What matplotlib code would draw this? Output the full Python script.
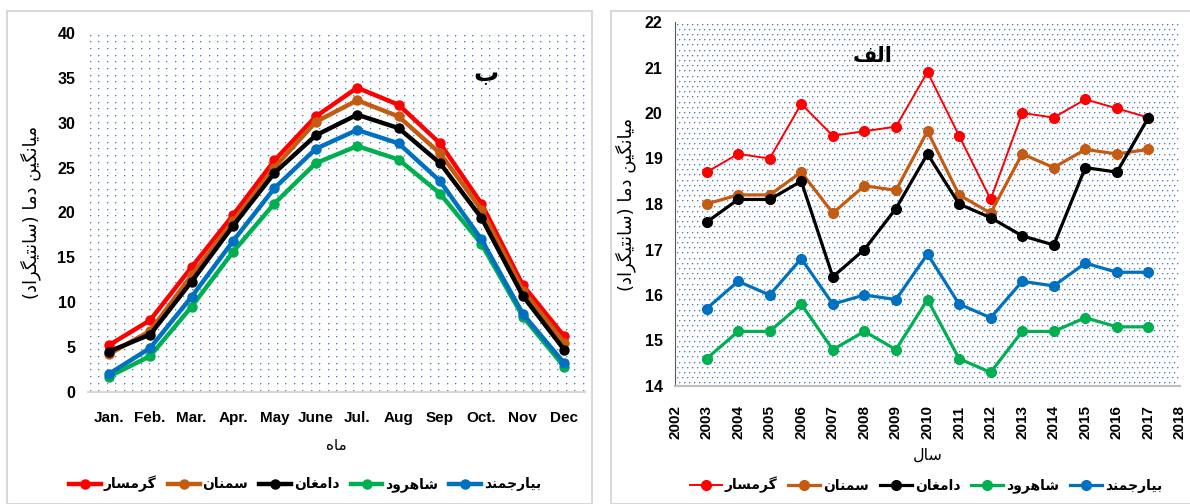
import matplotlib
matplotlib.use("Agg")
import matplotlib.pyplot as plt
from matplotlib.patches import Rectangle
import numpy as np

# ---- data ----
months = ["Jan.", "Feb.", "Mar.", "Apr.", "May", "June",
          "Jul.", "Aug", "Sep", "Oct.", "Nov", "Dec"]
years = list(range(2003, 2018))

stations = ["گرمسار", "سمنان", "دامغان", "شاهرود", "بیارجمند"]
colors = ["#FF0000", "#C55A11", "#000000", "#00B050", "#0070C0"]

# monthly mean temperature (panel b)
garmsar_m = [5.2, 8.0, 13.9, 19.7, 25.8, 30.7, 33.9, 32.0, 27.7, 21.0, 11.9, 6.2]
semnan_m = [4.2, 6.8, 13.0, 19.0, 25.0, 30.1, 32.5, 30.7, 26.6, 20.3, 11.3, 5.5]
damghan_m = [4.5, 6.4, 12.3, 18.5, 24.4, 28.6, 30.9, 29.4, 25.5, 19.4, 10.7, 4.7]
shahrud_m = [1.7, 4.0, 9.5, 15.6, 21.0, 25.5, 27.4, 25.9, 22.1, 16.5, 8.4, 2.8]
biarjmand_m = [2.0, 4.9, 10.6, 16.8, 22.7, 27.1, 29.2, 27.7, 23.5, 17.0, 8.7, 3.2]

# annual mean temperature (panel alef)
garmsar_y = [18.7, 19.1, 19.0, 20.2, 19.5, 19.6, 19.7, 20.9, 19.5, 18.1, 20.0, 19.9, 20.3, 20.1, 19.9]
semnan_y = [18.0, 18.2, 18.2, 18.7, 17.8, 18.4, 18.3, 19.6, 18.2, 17.8, 19.1, 18.8, 19.2, 19.1, 19.2]
damghan_y = [17.6, 18.1, 18.1, 18.5, 16.4, 17.0, 17.9, 19.1, 18.0, 17.7, 17.3, 17.1, 18.8, 18.7, 19.9]
shahrud_y = [14.6, 15.2, 15.2, 15.8, 14.8, 15.2, 14.8, 15.9, 14.6, 14.3, 15.2, 15.2, 15.5, 15.3, 15.3]
biarjmand_y = [15.7, 16.3, 16.0, 16.8, 15.8, 16.0, 15.9, 16.9, 15.8, 15.5, 16.3, 16.2, 16.7, 16.5, 16.5]

ylabel_txt = "میانگین دما (سانتیگراد)"
xlabel_b = "ماه"
xlabel_a = "سال"
title_b = "ب"
title_a = "الف"

# ---- minimal persian shaping (matplotlib has no bidi / joining) ----
# (isolated, final, initial, medial)
FORMS = {
    "ا": ("\uFE8D", "\uFE8E", None, None),
    "ب": ("\uFE8F", "\uFE90", "\uFE91", "\uFE92"),
    "ت": ("\uFE95", "\uFE96", "\uFE97", "\uFE98"),
    "ج": ("\uFE9D", "\uFE9E", "\uFE9F", "\uFEA0"),
    "د": ("\uFEA9", "\uFEAA", None, None),
    "ر": ("\uFEAD", "\uFEAE", None, None),
    "س": ("\uFEB1", "\uFEB2", "\uFEB3", "\uFEB4"),
    "ش": ("\uFEB5", "\uFEB6", "\uFEB7", "\uFEB8"),
    "غ": ("\uFECD", "\uFECE", "\uFECF", "\uFED0"),
    "ف": ("\uFED1", "\uFED2", "\uFED3", "\uFED4"),
    "ل": ("\uFEDD", "\uFEDE", "\uFEDF", "\uFEE0"),
    "م": ("\uFEE1", "\uFEE2", "\uFEE3", "\uFEE4"),
    "ن": ("\uFEE5", "\uFEE6", "\uFEE7", "\uFEE8"),
    "ه": ("\uFEE9", "\uFEEA", "\uFEEB", "\uFEEC"),
    "و": ("\uFEED", "\uFEEE", None, None),
    "گ": ("\uFB92", "\uFB93", "\uFB94", "\uFB95"),
    "ی": ("\uFBFC", "\uFBFD", "\uFBFE", "\uFBFF"),
}


def fa(text):
    out = []
    n = len(text)
    for i, ch in enumerate(text):
        if ch not in FORMS:
            out.append(ch)
            continue
        f = FORMS[ch]
        prev = text[i - 1] if i > 0 else ""
        nxt = text[i + 1] if i < n - 1 else ""
        jp = prev in FORMS and FORMS[prev][2] is not None
        jn = f[2] is not None and nxt in FORMS
        if jp and jn:
            out.append(f[3])
        elif jp:
            out.append(f[1])
        elif jn:
            out.append(f[2])
        else:
            out.append(f[0])
    s = "".join(out)[::-1]
    return s.translate(str.maketrans("()", ")("))


# dotted plot-area fill (excel "dotted" pattern), pixel exact
def dot_fill(fig, x0, y0, w, h, dx, dy, stagger):
    arr = np.zeros((h, w, 4))
    arr[..., :3] = np.array([68, 114, 196]) / 255.0
    for k, r in enumerate(np.arange(2, h - 1, dy)):
        off = dx / 2 if (stagger and k % 2) else 0
        for c in np.arange(2 + off, w - 1, dx):
            ri, ci = int(r), int(c)
            arr[ri, ci, 3] = 0.95
            arr[ri, ci + 1, 3] = 0.35
            arr[ri + 1, ci, 3] = 0.35
    fig.figimage(arr, xo=x0, yo=y0, zorder=-1)


plt.rcParams["font.family"] = ["Liberation Sans", "DejaVu Sans"]
plt.rcParams["font.weight"] = "bold"

W, H = 1190, 504
fig = plt.figure(figsize=(W / 100, H / 100), dpi=100)

# panel frames
fig.add_artist(Rectangle((7 / W, 0), 585 / W, 1 - 11 / H, transform=fig.transFigure,
                         fill=False, edgecolor="#D9D9D9", lw=1.5))
fig.add_artist(Rectangle((611 / W, 0), 600 / W, 1 - 11 / H, transform=fig.transFigure,
                         fill=False, edgecolor="#D9D9D9", lw=1.5))

ar_font = ["DejaVu Sans"]
leg_kw = dict(loc="center", ncol=5, frameon=False,
              prop={"family": ar_font, "size": 10, "weight": "bold"},
              handlelength=2.3, columnspacing=0.8, handletextpad=0.2)

# ---------- panel b (monthly) ----------
dot_fill(fig, 88, H - 392, 497, 359, 8.5, 6.7, False)
ax1 = fig.add_axes([88 / W, 1 - 392 / H, 497 / W, 359 / H])
ax1.set_facecolor("none")
mseries = [garmsar_m, semnan_m, damghan_m, shahrud_m, biarjmand_m]
x = range(len(months))
for name, vals, c in zip(stations, mseries, colors):
    ax1.plot(x, vals, color=c, lw=3.2, marker="o", ms=6.5, label=fa(name), zorder=3)
ax1.set_xlim(-0.5, 11.5)
ax1.set_ylim(0, 40)
ax1.set_yticks(range(0, 41, 5))
ax1.set_xticks(list(x))
ax1.set_xticklabels(months)
ax1.tick_params(length=0, labelsize=11.5, pad=9)
ax1.tick_params(axis="x", pad=14, labelsize=11)
for s in ["top", "right", "left"]:
    ax1.spines[s].set_visible(False)
ax1.spines["bottom"].set_color("#D9D9D9")
ax1.spines["bottom"].set_linewidth(1.5)
ax1.set_xlabel(fa(xlabel_b), family=ar_font, fontsize=11, labelpad=9)
ax1.set_ylabel(fa(ylabel_txt), family=ar_font, fontsize=13, labelpad=12)
ax1.text(0.80, 0.886, fa(title_b), transform=ax1.transAxes, family=ar_font,
         fontsize=18, ha="center", va="center")
ax1.legend(bbox_to_anchor=(0.437, -0.256), **leg_kw)

# ---------- panel alef (annual) ----------
dot_fill(fig, 675, H - 386, 505, 364, 5.0, 5.2, True)
ax2 = fig.add_axes([675 / W, 1 - 386 / H, 505 / W, 364 / H])
ax2.set_facecolor("none")
yseries = [garmsar_y, semnan_y, damghan_y, shahrud_y, biarjmand_y]
for i, (name, vals, c) in enumerate(zip(stations, yseries, colors)):
    ax2.plot(years, vals, color=c, lw=1.4 if i == 0 else 2.3, marker="o",
             ms=7, label=fa(name), zorder=3)
ax2.set_xlim(2002, 2018)
ax2.set_ylim(14, 22)
ax2.set_xticks(range(2002, 2019))
ax2.set_xticklabels([str(v) for v in range(2002, 2019)], rotation=90)
ax2.tick_params(length=0, labelsize=11.5, pad=9)
ax2.tick_params(axis="x", pad=14, labelsize=11)
for s in ["top", "right"]:
    ax2.spines[s].set_visible(False)
ax2.spines["left"].set_color("#595959")
ax2.spines["bottom"].set_color("#BFBFBF")
ax2.spines["bottom"].set_linewidth(1.5)
ax2.set_xlabel(fa(xlabel_a), family=ar_font, fontsize=11.5, labelpad=6)
ax2.set_ylabel(fa(ylabel_txt), family=ar_font, fontsize=13, labelpad=6)
ax2.text(0.392, 0.907, fa(title_a), transform=ax2.transAxes, family=ar_font,
         fontsize=15, ha="center", va="center")
ax2.legend(bbox_to_anchor=(0.497, -0.272), **leg_kw)

fig.savefig("out.png", dpi=100)
